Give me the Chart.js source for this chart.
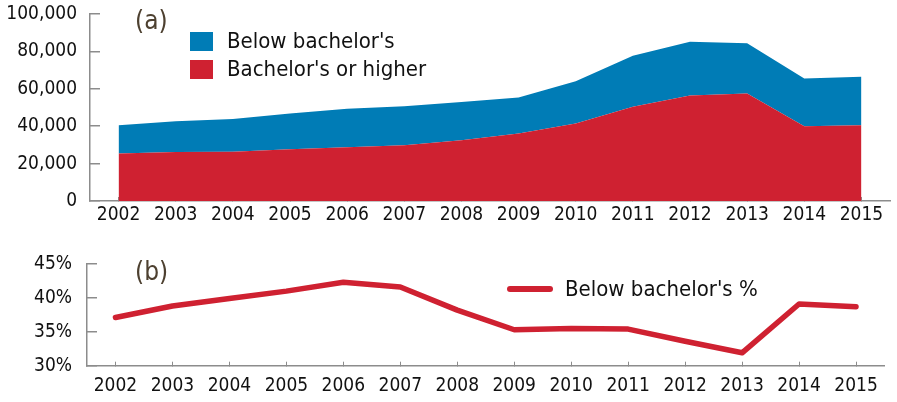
<!DOCTYPE html>
<html>
<head>
<meta charset="utf-8">
<script src="https://cdn.jsdelivr.net/npm/chart.js@4/dist/chart.umd.min.js"></script>
<style>
  html, body { margin: 0; padding: 0; background: #fff; }
  #wrap { position: relative; width: 897px; height: 402px; overflow: hidden;
          font-family: 'DejaVu Sans Condensed', 'Liberation Sans Narrow', sans-serif; }
  #topBox { position: absolute; left: 0; top: 0; width: 897px; height: 232px; }
  #botBox { position: absolute; left: 0; top: 232px; width: 897px; height: 170px; }
  .panel { position: absolute; color: #4d4030; font-size: 26px; line-height: 30px; }
  .lg { position: absolute; font-size: 22px; color: #111; line-height: 28px; white-space: nowrap; }
  .sw { position: absolute; width: 23px; height: 19px; }
  .ln { position: absolute; width: 46px; height: 6px; border-radius: 3px; background: #cf2131; }
</style>
</head>
<body>
<div id="wrap">
  <div id="topBox"><canvas id="topChart"></canvas></div>
  <div id="botBox"><canvas id="botChart"></canvas></div>

  <div class="panel" style="left:135px; top:5px;">(a)</div>
  <div class="panel" style="left:135px; top:256px;">(b)</div>

  <div class="sw" style="left:190px; top:32px; background:#007cb6;"></div>
  <div class="lg" style="left:227px; top:27px;">Below bachelor's</div>
  <div class="sw" style="left:190px; top:60px; background:#cf2131;"></div>
  <div class="lg" style="left:227px; top:55px;">Bachelor's or higher</div>

  <div class="ln" style="left:507px; top:286px;"></div>
  <div class="lg" style="left:565px; top:275px;">Below bachelor's %</div>
</div>
<script>
'use strict';

// ── Data ──────────────────────────────────────────────────────────────────────
const years          = ['2002', '2003', '2004', '2005', '2006', '2007', '2008',
                        '2009', '2010', '2011', '2012', '2013', '2014', '2015'];
const bachelorPlus   = [25400, 26200, 26300, 27700, 28800, 29800, 32500,
                        36100, 41400, 50400, 56400, 57500, 40000, 40500];
const belowBachelor  = [15100, 16500, 17500, 19100, 20500, 20900, 20500,
                        19300, 22700, 27300, 28800, 26800, 25500, 25900];
const belowPct       = [37.1, 38.8, 39.9, 41.0, 42.3, 41.6, 38.2,
                        35.3, 35.5, 35.4, 33.6, 31.9, 39.1, 38.7];

const RED  = '#cf2131';
const BLUE = '#007cb6';
const AXIS = '#8c8c8c';
const FONT = "'DejaVu Sans Condensed', 'Liberation Sans Narrow', sans-serif";

Chart.defaults.font.family = FONT;
Chart.defaults.font.size = 19;
Chart.defaults.color = '#111';

// shared axis styling: tick marks point inward, no gridlines in plot
function xAxis(height, pad) {
  return {
    offset: true,
    grid: { drawOnChartArea: false, tickLength: -4, color: AXIS, lineWidth: 1 },
    border: { color: AXIS, width: 1.5 },
    ticks: { padding: pad, maxRotation: 0, autoSkip: false },
    afterFit: s => { s.height = height; s.paddingLeft = 0; s.paddingRight = 0; }
  };
}

function yAxis(width, pad, min, max, step, fmt) {
  return {
    min: min, max: max,
    grid: { drawOnChartArea: false, tickLength: -10, color: AXIS, lineWidth: 1.5 },
    border: { color: AXIS, width: 1.5 },
    ticks: { stepSize: step, padding: pad, callback: fmt },
    afterFit: s => { s.width = width; s.paddingTop = 0; s.paddingBottom = 0; }
  };
}

// ── (a) stacked area ──────────────────────────────────────────────────────────
new Chart(document.getElementById('topChart'), {
  type: 'line',
  data: {
    labels: years,
    datasets: [
      { label: "Bachelor's or higher", data: bachelorPlus, backgroundColor: RED,
        borderWidth: 0, pointRadius: 0, fill: 'origin', tension: 0 },
      { label: "Below bachelor's", data: belowBachelor, backgroundColor: BLUE,
        borderWidth: 0, pointRadius: 0, fill: '-1', tension: 0 }
    ]
  },
  options: {
    responsive: true,
    maintainAspectRatio: false,
    animation: false,
    layout: { padding: { top: 14, right: 7, left: 0, bottom: 0 } },
    plugins: { legend: { display: false }, tooltip: { enabled: false } },
    scales: {
      x: xAxis(31, 6.6),
      y: Object.assign(yAxis(90, 23, 0, 100000, 20000, v => v.toLocaleString('en-US')), { stacked: true })
    }
  }
});

// ── (b) share line ────────────────────────────────────────────────────────────
new Chart(document.getElementById('botChart'), {
  type: 'line',
  data: {
    labels: years,
    datasets: [
      { label: "Below bachelor's %", data: belowPct, borderColor: RED,
        borderWidth: 5.5, pointRadius: 0, fill: false, tension: 0,
        borderCapStyle: 'round', borderJoinStyle: 'round' }
    ]
  },
  options: {
    responsive: true,
    maintainAspectRatio: false,
    animation: false,
    layout: { padding: { top: 32, right: 12.5, left: 0, bottom: 0 } },
    plugins: { legend: { display: false }, tooltip: { enabled: false } },
    scales: {
      x: xAxis(36.3, 13.4),
      y: yAxis(87, 25, 30, 45, 5, v => v + '%')
    }
  }
});
</script>
</body>
</html>
